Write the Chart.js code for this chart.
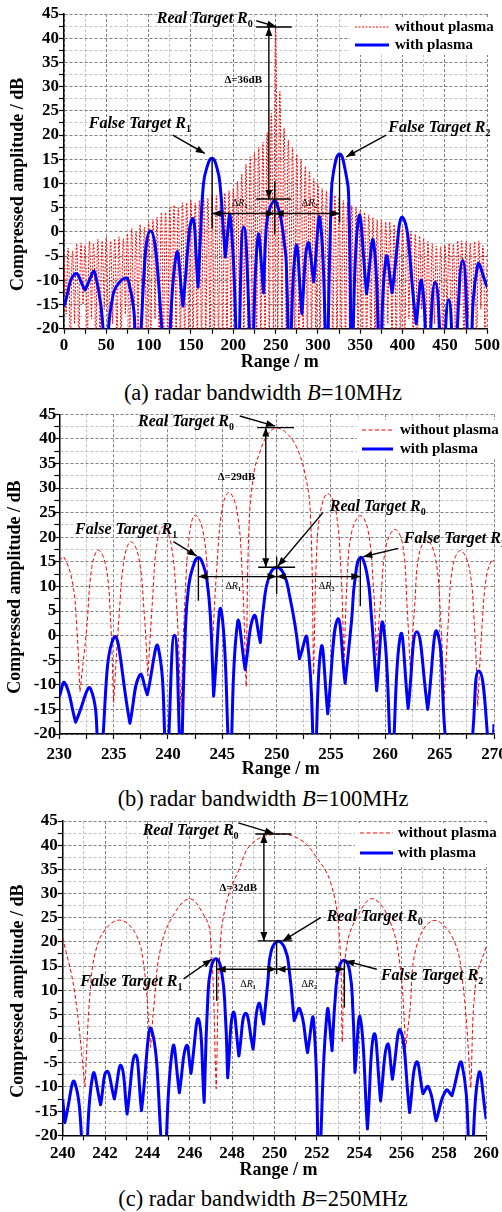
<!DOCTYPE html>
<html>
<head>
<meta charset="utf-8">
<script src="https://cdn.jsdelivr.net/npm/chart.js@4.4.1/dist/chart.umd.min.js"></script>
<style>
  html, body { margin: 0; padding: 0; background: #fff; }
  body { width: 502px; height: 1212px; overflow: hidden; position: relative; font-family: 'Liberation Serif', 'Times New Roman', serif; }
  canvas { position: absolute; left: 0; }
  .cap { position: absolute; left: 0; width: 526px; text-align: center; font-size: 22.5px; line-height: 26px; color: #000; white-space: nowrap; }
</style>
</head>
<body>
<canvas id="chartA" width="502" height="372" style="top:0px"></canvas>
<div class="cap" style="top:380px">(a) radar bandwidth <i>B</i>=10MHz</div>
<canvas id="chartB" width="520" height="378" style="top:400px"></canvas>
<div class="cap" style="top:786px">(b) radar bandwidth <i>B</i>=100MHz</div>
<canvas id="chartC" width="502" height="380" style="top:805px"></canvas>
<div class="cap" style="top:1186px">(c) radar bandwidth <i>B</i>=250MHz</div>

<script>
// ---- data (range in m, amplitude in dB) ----

// (a) B=10MHz, "without plasma": dense ripple, tops every 5 m and nulls in between
const redA_peaks = [
  -4.5, -3.5, -4, -2.5, -2.5, -3, -2, -2.5, -1.5, -2,
  -1.2, -2, -1.5, -1, -1.5, -0.5, 0.7, 0, 1.5, 1,
  2, 2.5, 3, 4, 4, 5, 5.5, 5, 6, 6,
  6.5, 6, 6.5, 7, 7, 7.5, 7.5, 8, 8, 8.5,
  9, 10.5, 12, 14, 15.5, 16.5, 17.5, 18.5, 20.5, 24.5,
  42.3, 29, 21.5, 19, 17.5, 16, 15, 13.5, 12.5, 11,
  10, 9, 8.5, 8, 7.5, 7, 6.5, 6, 5.5, 5,
  4.5, 4, 3.5, 3, 2.5, 2.5, 2, 2, 1.5, 1.5,
  1, 0.5, 0, -0.5, -1, -1.5, -2, -2.5, -3, -3,
  -3, -2.5, -2.5, -2, -2, -2, -2.5, -2, -2, -3,
  -4
];
const redA_nulls = [
  -17, -26, -19, -26, -15, -26, -18, -26, -26, -16,
  -26, -19, -26, -26, -17, -26, -26, -20, -26, -26,
  -26, -18, -26, -26, -26, -26, -26, -26, -26, -26,
  -26, -26, -26, -26, -26, -26, -26, -26, -26, -26,
  -26, -26, -26, -26, -26, -26, -26, -26, -26, -26,
  -26, -26, -26, -26, -26, -26, -26, -26, -26, -26,
  -26, -26, -26, -26, -26, -26, -26, -26, -26, -26,
  -26, -26, -26, -26, -26, -26, -19, -26, -26, -26,
  -26, -18, -26, -26, -16, -26, -26, -19, -26, -26,
  -17, -26, -26, -15, -26, -18, -26, -26, -16, -26
];
const redA_x = [], redA_y = [];
redA_peaks.forEach((v, i) => {
  redA_x.push(i * 5); redA_y.push(v);
  if (i < redA_nulls.length) { redA_x.push(i * 5 + 2.5); redA_y.push(redA_nulls[i]); }
});

// (a) "with plasma"
const blueA_x = [0, 13, 24.8, 36.6, 52, 58, 76, 86.5, 102.2, 121.5, 132.9, 140.5, 151.5, 158.4, 161.2, 164.4,
  168.3, 174.9, 181, 184.6, 188, 190.5, 196.5, 205.6, 212.3, 222, 229.2, 235.8, 239, 243, 248.9, 253,
  256.6, 260, 262.6, 266, 274, 281, 288, 295, 302.5, 310.8, 315.6, 318.5, 325.5, 332.5, 336.5, 339.3,
  348.2, 357.5, 365.6, 373, 380.5, 387.6, 400.5, 416, 422.6, 429.6, 438.5, 447.3, 454.4, 461, 471, 479,
  488.6, 500];
const blueA_y = [-15.4, -8.7, -12, -8.5, -32, -13, -10, -32, 0.2, -32, -4.5, -15.3, 2.7, -11.4, -1, 9.3,
  13, 15.2, 13, 9.3, 1, -5.2, 3.1, -32, 1, -32, -0.9, -12.6, 1, 4.8, 6.4, 5,
  2.4, -2, -6.5, -32, -3.1, -16.9, -2.4, -10.3, 2.6, -32, 6.5, 12.5, 16.1, 12.5, 6, -32,
  3, -12.8, -2, -30, -5.3, -12.6, 2.9, -19, -10.3, -32, -10.4, -32, -14, -32, -5.9, -32,
  -6.9, -11.4];

// (b) B=100MHz
const redB_x = [230, 230.4, 231.2, 231.6, 231.9, 232.5, 233.0, 233.6, 234.3, 234.7, 235.0, 235.5, 236.0, 236.6,
  237.3, 237.8, 238.15, 238.6, 239.0, 239.6, 240.3, 240.8, 241.2, 241.6, 242.0, 242.5, 243.2, 243.7, 244.1,
  244.5, 245.0, 245.6, 246.3, 246.8, 247.2, 247.45, 247.9, 248.4, 249.2, 250.0, 250.9, 251.8, 252.6, 253.1,
  253.4, 253.7, 254.1, 254.7, 255.4, 255.9, 256.2, 256.5, 256.9, 257.7, 258.4, 258.9, 259.2, 259.6, 260.1,
  260.9, 261.6, 262.0, 262.3, 262.7, 263.1, 263.8, 264.6, 265.1, 265.4, 265.8, 266.2, 266.9, 267.7, 268.2,
  268.5, 268.9, 269.3, 269.8, 270];
const redB_y = [15.2, 16, 11, 2, -11.4, 1, 14, 17.4, 14, 4, -13.6, 4, 16, 19.1,
  16, 5, -8.2, 8, 19, 22.2, 18.5, 6, -15, 9, 21, 24.5, 21.5, 11, -1.4,
  14, 26, 29.1, 26, 14, -10.4, 22, 33, 37, 41, 42.2, 41.2, 38.5, 33, 25,
  -8, 18, 26, 28.9, 26, 14, -6, 12, 21, 24.4, 21.5, 10, -4, 8, 18.5,
  21.6, 18.5, 6, -7, 6, 16.5, 19.4, 16, 3, -13.4, 3, 14, 17.3, 14, 2,
  -14.4, 2, 12, 15.4, 15.2];
const blueB_x = [230, 230.5, 231.5, 232.9, 233.7, 235, 236.5, 237.4, 238.1, 239.1, 239.9, 240.6, 241.2, 241.6,
  241.9, 242.3, 242.8, 243.3, 243.6, 243.9, 244.2, 244.9, 245.7, 246.4, 247.1, 247.9, 248.5, 248.8, 249.3,
  250, 250.7, 251.2, 251.7, 252.1, 252.8, 253.5, 254.1, 254.7, 255.6, 256.3, 256.9, 257.2, 257.7, 258.3,
  258.7, 259.2, 259.8, 260.6, 261.4, 262.1, 262.9, 263.9, 264.8, 266.1, 267.4, 268.6, 269.8, 270];
const blueB_y = [-12.4, -9.6, -17.6, -10.9, -30, -0.5, -17.8, -8, -12, -2.4, -30, 0.1, -30, 1,
  10, 14, 15.9, 14, 11, 4, -12.3, 5.1, -30, 2.6, -6.9, 4, -1.4, 6, 12,
  13.9, 12.3, 8, 2, -4.7, -0.5, -30, -2.4, -15.9, 3.3, -9.7, 3.2, 11.3, 15.9, 12.7,
  4.5, -11.2, 2.3, -30, 0.1, -14.8, 0.8, -15, 0.6, -30, -30, -7.2, -30, -18];

// (c) B=250MHz
const redC_x = [240, 240.55, 241.05, 241.3, 241.55, 242.0, 242.7, 243.4, 243.8, 244.15, 244.3, 244.63, 245.25,
  246.0, 246.6, 246.96, 247.25, 247.45, 247.8, 248.3, 248.9, 250.05, 251.2, 252.0, 252.65, 253.05, 253.2,
  253.4, 254.05, 254.67, 255.45, 255.92, 256.2, 256.4, 256.69, 257.48, 258.41, 258.88, 259.27, 259.51, 260];
const redC_y = [20.9, 10, -9.8, 10, 18, 22.5, 24.5, 22, 16, -1.8, 6.4, 18.8, 25.7,
  28.9, 26, 22, -10.4, 20, 29.2, 34.7, 40.2, 42.3, 41.2, 37.4, 32.3, 22, -0.8,
  18.8, 26.4, 28.9, 24.3, 15.4, -1.8, 6, 18.8, 24.4, 20.9, 11.9, -10.2, 11.9, 19];
const blueC_x = [240, 240.1, 240.57, 241.05, 241.43, 241.79, 242.08, 242.44, 242.76, 243.04, 243.43, 243.72,
  244.2, 244.78, 245.2, 245.51, 245.84, 246.06, 246.42, 246.68, 246.85, 247.0, 247.25, 247.5, 247.68, 247.79,
  248.05, 248.32, 248.63, 248.99, 249.25, 249.49, 249.69, 249.84, 250.15, 250.5, 250.7, 250.93, 251.2, 251.56,
  251.84, 252.1, 252.49, 252.72, 252.88, 253.05, 253.3, 253.55, 253.7, 253.8, 254.05, 254.39, 254.7, 255.01,
  255.33, 255.57, 255.95, 256.38, 256.7, 257.01, 257.27, 257.63, 258.1, 258.38, 258.85, 259.27, 259.65, 260];
const blueC_y = [-12.5, -17.4, -9.1, -30, -7.4, -13.7, -6.8, -12.5, -5.6, -15.6, -3.4, -14.9,
  1.8, -30, -1.8, -11.2, -1.5, -7.2, 4, -13.2, 8, 14.5, 16.5, 14, 5, -8.1,
  5.4, -3.6, 5.2, -2.2, 7.2, 3, 11.9, 18, 20.1, 18.5, 14, 3.7, 6.1, -2.9,
  4, -30, 5.7, -2.5, 9, 14.7, 16.2, 14, 6, -7, 4.3, -18.7, 0.9, -12.9,
  -1.2, -8.4, 1.7, -15.3, -4.9, -11.4, -10, -17, -10.7, -11.8, -5.2, -30, -7.2, -16.7];

const legendLabels = ['without plasma', 'with plasma'];
const xTitle = 'Range / m';
const yTitle = 'Compressed amplitude / dB';

// ---- drawing ----
const FONT = "'Liberation Serif', 'Times New Roman', serif";
Chart.defaults.color = '#000';

function toPoints(xs, ys) {
  const out = [];
  for (let i = 0; i < xs.length; i++) {
    out.push({ x: xs[i], y: ys[i] });
    // repeat a local minimum so the curve turns sharply there (like the nulls in the plot)
    if (i > 0 && i < xs.length - 1 && ys[i] < ys[i - 1] && ys[i] < ys[i + 1]) out.push({ x: xs[i], y: ys[i] });
  }
  return out;
}

function scaleCfg(min, max, step, major, size, tickPad) {
  const isMajor = v => Math.abs(v / major - Math.round(v / major)) < 1e-6;
  return {
    type: 'linear', min, max,
    afterFit: s => { if (s.isHorizontal()) s.height = size; else s.width = size; },
    ticks: {
      stepSize: step, autoSkip: false, maxRotation: 0, minRotation: 0, padding: tickPad, color: '#000',
      font: { family: FONT, size: 17, weight: 'bold' },
      callback: v => isMajor(v) ? String(v) : ''
    },
    grid: {
      color: c => isMajor(c.tick.value) ? '#808080' : '#c4c4c4',
      lineWidth: 1, tickLength: 5, tickColor: '#000', tickWidth: 1.2
    },
    border: { color: '#000', width: 1.5, dash: [3, 2] }
  };
}

function head(ctx, from, to) {
  const ang = Math.atan2(to.y - from.y, to.x - from.x), L = 9, W = 3.5;
  ctx.beginPath();
  ctx.moveTo(to.x, to.y);
  ctx.lineTo(to.x - L * Math.cos(ang) + W * Math.sin(ang), to.y - L * Math.sin(ang) - W * Math.cos(ang));
  ctx.lineTo(to.x - L * Math.cos(ang) - W * Math.sin(ang), to.y - L * Math.sin(ang) + W * Math.cos(ang));
  ctx.closePath();
  ctx.fill();
}

function drawRuns(ctx, x, y, size, runs) {
  const fonts = {
    bi: `italic bold ${size}px ${FONT}`, b: `bold ${size}px ${FONT}`,
    i: `italic ${size}px ${FONT}`, n: `${size}px ${FONT}`, sub: `bold ${Math.round(size * 0.6)}px ${FONT}`
  };
  let w = 0;
  runs.forEach(([t, f]) => { ctx.font = fonts[f]; w += ctx.measureText(t).width; });
  let cx = x - w / 2;
  runs.forEach(([t, f]) => {
    ctx.font = fonts[f];
    ctx.fillText(t, cx, f === 'sub' ? y + size * 0.35 : y);
    cx += ctx.measureText(t).width;
  });
}

const RT = [['Real Target R', 'bi'], ['0', 'sub']];
const FT1 = [['False Target R', 'bi'], ['1', 'sub']];
const FT2 = [['False Target R', 'bi'], ['2', 'sub']];
const DR1 = [['\u0394', 'n'], ['R', 'i'], ['1', 'sub']];
const DR2 = [['\u0394', 'n'], ['R', 'i'], ['2', 'sub']];

function deco(cfg) {
  return {
    id: 'deco',
    afterDatasetsDraw(chart) {
      const { ctx, scales: { x, y } } = chart;
      const X = v => x.getPixelForValue(v), Y = v => y.getPixelForValue(v);
      ctx.save();
      ctx.strokeStyle = '#000'; ctx.fillStyle = '#000'; ctx.lineWidth = 1.4; ctx.setLineDash([]);
      cfg.ann.lines.forEach(([x1, y1, x2, y2]) => {
        ctx.beginPath(); ctx.moveTo(X(x1), Y(y1)); ctx.lineTo(X(x2), Y(y2)); ctx.stroke();
      });
      cfg.ann.arrows.forEach(([x1, y1, x2, y2, heads]) => {
        const a = { x: X(x1), y: Y(y1) }, b = { x: X(x2), y: Y(y2) };
        ctx.beginPath(); ctx.moveTo(a.x, a.y); ctx.lineTo(b.x, b.y); ctx.stroke();
        head(ctx, a, b);
        if (heads === 2) head(ctx, b, a);
      });
      ctx.textBaseline = 'middle'; ctx.textAlign = 'left';
      cfg.ann.texts.forEach(t => drawRuns(ctx, X(t.x), Y(t.y), t.size, t.runs));

      // legend
      const lg = cfg.legend;
      ctx.fillStyle = '#fff';
      ctx.fillRect(lg.box[0], lg.box[1], lg.box[2], lg.box[3]);
      ctx.lineWidth = 1.2; ctx.strokeStyle = '#ff0000'; ctx.setLineDash(cfg.redDash);
      ctx.beginPath(); ctx.moveTo(lg.lineX[0], lg.rows[0]); ctx.lineTo(lg.lineX[1], lg.rows[0]); ctx.stroke();
      ctx.setLineDash([]); ctx.lineWidth = 3; ctx.strokeStyle = '#0000ff';
      ctx.beginPath(); ctx.moveTo(lg.lineX[0], lg.rows[1]); ctx.lineTo(lg.lineX[1], lg.rows[1]); ctx.stroke();
      ctx.fillStyle = '#000'; ctx.font = `bold 15px ${FONT}`;
      ctx.fillText(legendLabels[0], lg.textX, lg.rows[0]);
      ctx.fillText(legendLabels[1], lg.textX, lg.rows[1]);
      ctx.restore();
    },
    afterDraw(chart) {
      const { ctx, chartArea: ca } = chart;
      ctx.save();
      ctx.fillStyle = '#000';
      ctx.font = `bold 18px ${FONT}`;
      ctx.textAlign = 'center'; ctx.textBaseline = 'middle';
      ctx.fillText(xTitle, (ca.left + ca.right) / 2 + 4, cfg.xTitleY);
      ctx.translate(cfg.yTitleX, (ca.top + ca.bottom) / 2 + 13);
      ctx.rotate(-Math.PI / 2);
      ctx.fillText(yTitle, 0, 0);
      ctx.restore();
    }
  };
}

function makeChart(id, cfg) {
  return new Chart(document.getElementById(id), {
    type: 'line',
    data: {
      datasets: [
        { data: toPoints(cfg.blueX, cfg.blueY), borderColor: '#0000ff', borderWidth: 3, pointRadius: 0,
          tension: 0.5, borderJoinStyle: 'round' },
        { data: toPoints(cfg.redX, cfg.redY), borderColor: '#ff0000', borderWidth: 1, borderDash: cfg.redDash,
          pointRadius: 0, tension: 0.4 }
      ]
    },
    options: {
      responsive: false, animation: false, events: [],
      layout: { padding: { left: 0, top: cfg.padTop, right: cfg.padRight, bottom: 0 } },
      elements: { line: { capBezierPoints: false } },
      plugins: { legend: { display: false }, tooltip: { enabled: false } },
      scales: {
        x: scaleCfg(cfg.xMin, cfg.xMax, cfg.xStep, cfg.xMajor, cfg.xAxisH, cfg.xTickPad),
        y: scaleCfg(-20, 45, 2.5, 5, cfg.yAxisW, cfg.yTickPad)
      }
    },
    plugins: [deco(cfg)]
  });
}

makeChart('chartA', {
  redX: redA_x, redY: redA_y, blueX: blueA_x, blueY: blueA_y, redDash: [2, 1.5],
  xMin: 0, xMax: 500, xStep: 25, xMajor: 50,
  padTop: 14, padRight: 14, xAxisH: 43.3, yAxisW: 64, xTickPad: 2, yTickPad: 0,
  xTitleY: 362.7, yTitleX: 18,
  legend: { box: [350, 17, 152, 38], lineX: [355, 389], textX: 395, rows: [27, 45] },
  ann: {
    lines: [[227, 42.3, 269, 42.3], [227, 6.8, 268, 6.8], [249, 10.5, 249, -0.5],
            [175, 15.2, 175, 0.7], [325.5, 16, 325.5, 1.9]],
    arrows: [[227.2, 43.6, 250.5, 42.4, 1], [242, 42.3, 242, 6.8, 2], [175, 3.8, 249, 3.8, 2],
             [249, 3.8, 325.5, 3.8, 2], [128.5, 20, 166.3, 16.2, 1], [380.5, 20, 333.4, 15.5, 1]],
    texts: [
      { x: 166.3, y: 44, size: 16, runs: RT },
      { x: 211.7, y: 31.3, size: 11, runs: [['\u0394=36dB', 'b']] },
      { x: 207.5, y: 5.9, size: 10, runs: DR1 },
      { x: 290, y: 5.9, size: 10, runs: DR2 },
      { x: 89.6, y: 22.4, size: 16, runs: FT1 },
      { x: 443.4, y: 21.4, size: 16, runs: FT2 }
    ]
  }
});

makeChart('chartB', {
  redX: redB_x, redY: redB_y, blueX: blueB_x, blueY: blueB_y, redDash: [4, 2.5],
  xMin: 230, xMax: 270, xStep: 2.5, xMajor: 5,
  padTop: 14.3, padRight: 26, xAxisH: 44, yAxisW: 59.3, xTickPad: 5, yTickPad: -2,
  xTitleY: 369, yTitleX: 15,
  legend: { box: [357, 20, 163, 38], lineX: [362, 393], textX: 400, rows: [30, 49] },
  ann: {
    lines: [[248.2, 42.3, 251.6, 42.3], [248.3, 13.9, 251.7, 13.9], [250, 16, 250, 8.5],
            [242.8, 15.9, 242.8, 7.1], [257.7, 15.9, 257.7, 6]],
    arrows: [[246.6, 44.65, 249.85, 42.6, 1], [249, 42.3, 249, 13.9, 2], [242.8, 12, 250, 12, 2],
             [250, 12, 257.7, 12, 2], [254.26, 25, 250.12, 14.15, 1], [240.5, 19.1, 242.64, 16.2, 1],
             [261.19, 17.75, 257.97, 16.04, 1]],
    texts: [
      { x: 241.66, y: 43.5, size: 16, runs: RT },
      { x: 246.3, y: 32.3, size: 11, runs: [['\u0394=29dB', 'b']] },
      { x: 246, y: 10, size: 10, runs: DR1 },
      { x: 254.6, y: 10, size: 10, runs: DR2 },
      { x: 259.3, y: 26.2, size: 16, runs: RT },
      { x: 236.15, y: 21.5, size: 16, runs: FT1 },
      { x: 266.4, y: 19.6, size: 16, runs: FT2 }
    ]
  }
});

makeChart('chartC', {
  redX: redC_x, redY: redC_y, blueX: blueC_x, blueY: blueC_y, redDash: [4, 2.5],
  xMin: 240, xMax: 260, xStep: 1, xMajor: 2,
  padTop: 16, padRight: 12, xAxisH: 49.7, yAxisW: 62.7, xTickPad: 3, yTickPad: 0,
  xTitleY: 365, yTitleX: 18,
  legend: { box: [355, 18, 147, 44], lineX: [360, 393], textX: 398, rows: [28, 48] },
  ann: {
    lines: [[249.1, 42.3, 250.8, 42.3], [249.2, 20.2, 250.85, 20.2], [250.1, 20.2, 250.1, 13.3],
            [247.27, 16.4, 247.27, 7.8], [253.3, 16.2, 253.3, 6.4]],
    arrows: [[248.29, 44.6, 249.97, 42.4, 1], [249.5, 42.3, 249.5, 20.2, 2], [247.27, 14.35, 250.1, 14.35, 2],
             [250.1, 14.35, 253.3, 14.35, 2], [252.18, 25, 250.39, 20.2, 1], [245.71, 12.35, 247.04, 16.4, 1],
             [254.83, 14.35, 253.35, 16.07, 1]],
    texts: [
      { x: 246.04, y: 42.96, size: 16, runs: RT },
      { x: 248.29, y: 31.2, size: 11, runs: [['\u0394=32dB', 'b']] },
      { x: 248.75, y: 11.25, size: 10, runs: DR1 },
      { x: 251.64, y: 11.25, size: 10, runs: DR2 },
      { x: 254.73, y: 25.2, size: 16, runs: RT },
      { x: 243.24, y: 11.7, size: 16, runs: FT1 },
      { x: 257.44, y: 12.97, size: 16, runs: FT2 }
    ]
  }
});
</script>
</body>
</html>
